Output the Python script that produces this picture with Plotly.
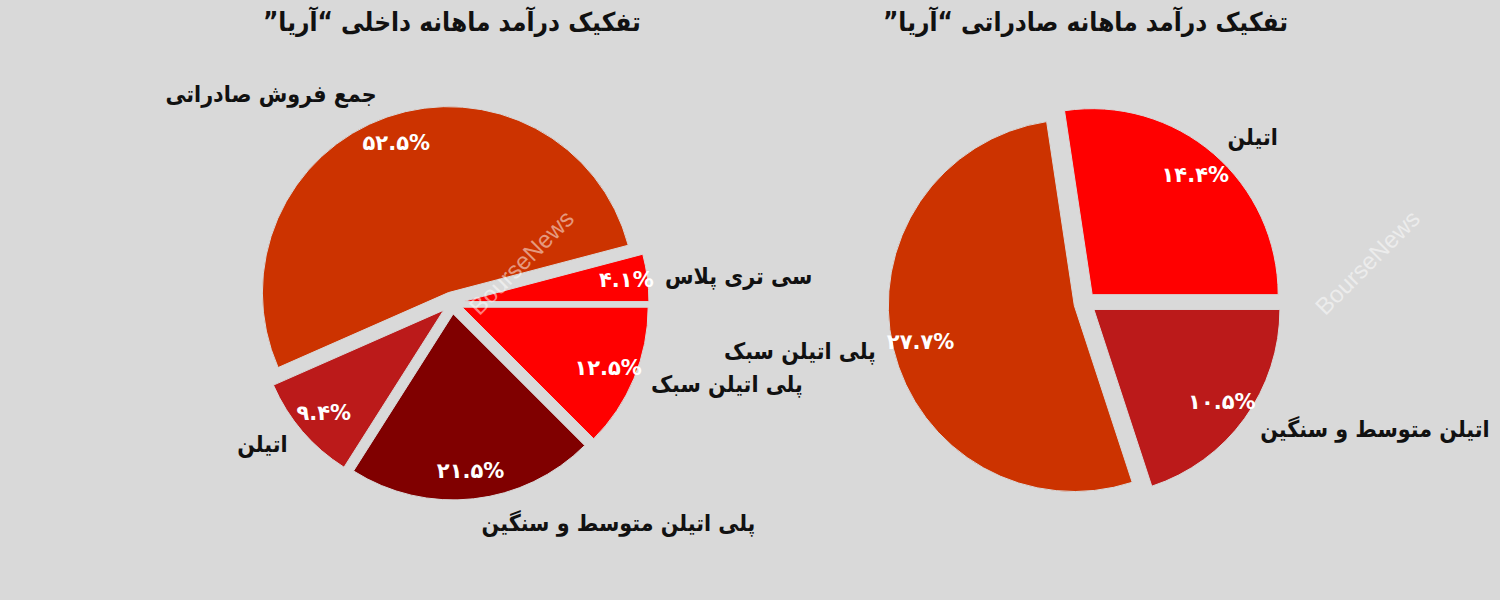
import plotly.graph_objects as go

# ---- data ----
dom_labels = ["سی تری پلاس", "جمع فروش صادراتی", "اتیلن", "پلی اتیلن متوسط و سنگین", "پلی اتیلن سبک"]
dom_values = [4.1, 52.5, 9.4, 21.5, 12.5]
dom_colors = ["#FF0000", "#CC3300", "#BB1A1A", "#800000", "#FF0000"]

exp_labels = ["اتیلن", "اتیلن متوسط و سنگین", "پلی اتیلن سبک"]
exp_values = [14.4, 10.5, 27.7]
exp_colors = ["#FF0000", "#BB1A1A", "#CC3300"]

title_dom = "تفکیک درآمد ماهانه داخلی “آریا”"
title_exp = "تفکیک درآمد ماهانه صادراتی “آریا”"
watermark = "BourseNews"

FA = str.maketrans("0123456789", "۰۱۲۳۴۵۶۷۸۹")


def fa_pct(v):
    return (f"{v:.1f}%").translate(FA)


RLM = "\u200f"
BG = "#D9D9D9"
FONT = "DejaVu Sans"
FONT_C = "DejaVu Sans Condensed, DejaVu Sans"
CLEAR = "rgba(0,0,0,0)"
W, H = 1500, 600

R = 186          # pie radius (px)
R_LABEL = 197    # radius used to place the outside category labels
R_PCT = 200      # radius of the transparent ring carrying percentages
PULL_PX = 11     # explode offset (px)
dom_center = (452, 303)
exp_center = (1085, 303)


def domain_for(center, r, pull_frac):
    half = r * (1 + pull_frac)
    cx, cy = center
    return dict(x=[(cx - half) / W, (cx + half) / W],
                y=[1 - (cy + half) / H, 1 - (cy - half) / H])


fig = go.Figure()


def add_pie(labels, values, colors, center, rotation, direction, small_idx):
    n = len(values)
    pull = PULL_PX / R
    base = dict(labels=labels, values=values, sort=False, direction=direction,
                rotation=rotation, showlegend=False)
    dom = domain_for(center, R, pull)
    # coloured slices
    fig.add_trace(go.Pie(
        **base, domain=dom, pull=[pull] * n,
        marker=dict(colors=colors, line=dict(color=BG, width=1)),
        textinfo="none", hoverinfo="label+value",
    ))
    # outside category labels (transparent slices)
    pull_l = PULL_PX / R_LABEL
    fig.add_trace(go.Pie(
        **base, domain=domain_for(center, R_LABEL, pull_l), pull=[pull_l] * n,
        marker=dict(colors=[CLEAR] * n, line=dict(width=0)),
        textinfo="label", textposition="outside",
        textfont=dict(family=FONT_C, size=23, color="#111111", weight="bold"),
        hoverinfo="skip",
    ))
    pct = [fa_pct(v) for v in values]
    # percentage text near the rim: wider transparent ring for normal slices
    pull2 = PULL_PX / R_PCT
    fig.add_trace(go.Pie(
        **base, domain=domain_for(center, R_PCT, pull2), pull=[pull2] * n, hole=0.58,
        marker=dict(colors=[CLEAR] * n, line=dict(width=0)),
        text=[("" if i in small_idx else p) for i, p in enumerate(pct)], texttemplate="%{text}",
        textposition="inside", insidetextorientation="horizontal",
        textfont=dict(family=FONT, size=21, color="white", weight="bold"),
        hoverinfo="skip",
    ))
    # thin slices: text at the rim of the base pie
    if small_idx:
        fig.add_trace(go.Pie(
            **base, domain=dom, pull=[pull] * n, hole=0.59,
            marker=dict(colors=[CLEAR] * n, line=dict(width=0)),
            text=[(p if i in small_idx else "") for i, p in enumerate(pct)], texttemplate="%{text}",
            textposition="inside", insidetextorientation="horizontal",
            textfont=dict(family=FONT, size=21, color="white", weight="bold"),
            hoverinfo="skip",
        ))


dom_rot = 90 - 360 * dom_values[0] / sum(dom_values)
add_pie(dom_labels, dom_values, dom_colors, dom_center, dom_rot, "counterclockwise", [0])
exp_rot = 90 - 360 * exp_values[0] / sum(exp_values)
add_pie(exp_labels, exp_values, exp_colors, exp_center, exp_rot, "clockwise", [])

annotations = []
for (cx, _), t in ((dom_center, title_dom), (exp_center, title_exp)):
    annotations.append(dict(
        x=cx / W, y=1 - 22 / H, xref="paper", yref="paper", xanchor="center", yanchor="middle",
        text=RLM + t + RLM, showarrow=False,
        font=dict(family=FONT_C, size=26, color="#111111", weight="bold"),
    ))
for wx in (521, 1367):
    annotations.append(dict(
        x=wx / W, y=1 - 262 / H, xref="paper", yref="paper", xanchor="center", yanchor="middle",
        text=watermark, showarrow=False, textangle=-45,
        font=dict(family="Liberation Sans", size=24, color="rgba(255,255,255,0.5)"),
    ))

fig.update_layout(
    width=W, height=H, autosize=False,
    paper_bgcolor=BG, plot_bgcolor=BG,
    margin=dict(l=0, r=0, t=0, b=0, pad=0, autoexpand=False),
    annotations=annotations,
    uniformtext=dict(mode="show", minsize=21),
)

fig.write_html(
    "out.html",
    config={"displayModeBar": False},
    post_script="document.body.style.margin='0px';document.body.style.overflow='hidden';",
)
